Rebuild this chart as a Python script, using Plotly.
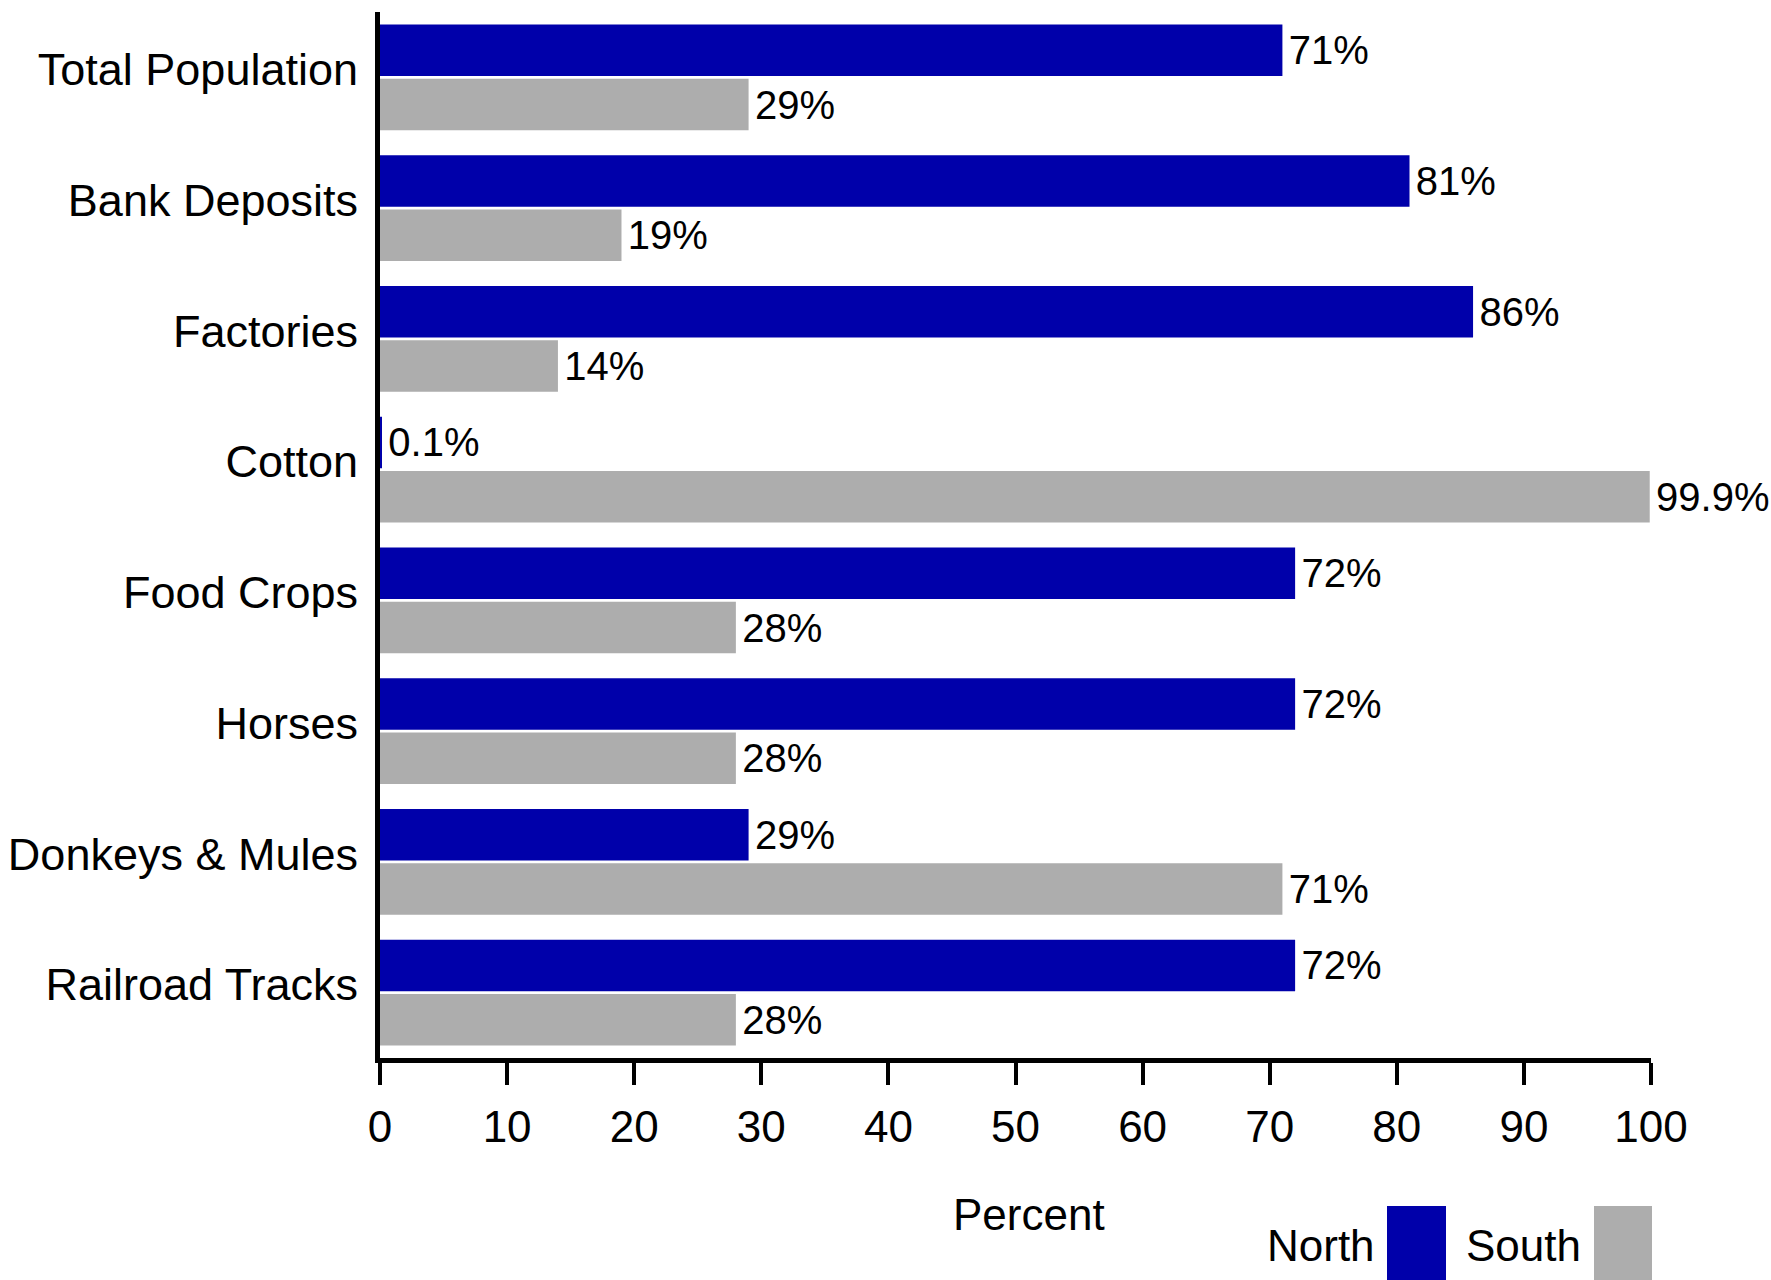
import plotly.graph_objects as go

categories = ["Total Population", "Bank Deposits", "Factories", "Cotton",
              "Food Crops", "Horses", "Donkeys & Mules", "Railroad Tracks"]
north = [71, 81, 86, 0.1, 72, 72, 29, 72]
south = [29, 19, 14, 99.9, 28, 28, 71, 28]
north_labels = ["71%", "81%", "86%", "0.1%", "72%", "72%", "29%", "72%"]
south_labels = ["29%", "19%", "14%", "99.9%", "28%", "28%", "71%", "28%"]
x_ticks = [0, 10, 20, 30, 40, 50, 60, 70, 80, 90, 100]
x_title = "Percent"

FONT = "Liberation Sans, Arial, Helvetica, sans-serif"
NORTH_C = "#0000AA"
SOUTH_C = "#ADADAD"

W, H = 1771, 1280
L, R, T, B = 380, 120, 12, 222

fig = go.Figure()
fig.add_trace(go.Bar(
    y=categories, x=north, orientation="h", name="North",
    marker=dict(color=NORTH_C, line=dict(width=0)),
    text=["\u200a" + s for s in north_labels], textposition="outside",
    textfont=dict(family=FONT, size=40, color="black"),
    cliponaxis=False, constraintext="none", showlegend=False,
))
fig.add_trace(go.Bar(
    y=categories, x=south, orientation="h", name="South",
    marker=dict(color=SOUTH_C, line=dict(width=0)),
    text=["\u200a" + s for s in south_labels], textposition="outside",
    textfont=dict(family=FONT, size=40, color="black"),
    cliponaxis=False, constraintext="none", showlegend=False,
))

def px(X):
    return (X - L) / (W - L - R)

def py(Y):
    return (H - B - Y) / (H - T - B)

shapes = []
annotations = [dict(xref="paper", yref="paper", x=px(1029), y=py(1214),
                    text=x_title, showarrow=False, xanchor="center", yanchor="middle",
                    font=dict(family=FONT, size=44, color="black"))]
for label, color, tx, sx0, sx1 in [("North", NORTH_C, 1373, 1387, 1446),
                                  ("South", SOUTH_C, 1579, 1594, 1652)]:
    annotations.append(dict(xref="paper", yref="paper", x=px(tx), y=py(1245),
                            text=label, showarrow=False, xanchor="right", yanchor="middle",
                            xshift=4,
                            font=dict(family=FONT, size=44, color="black")))
    shapes.append(dict(type="rect", xref="paper", yref="paper",
                       x0=px(sx0), x1=px(sx1), y0=py(1206), y1=py(1300),
                       fillcolor=color, line=dict(width=0)))

fig.update_layout(
    width=W, height=H,
    margin=dict(l=L, r=R, t=T, b=B),
    paper_bgcolor="white", plot_bgcolor="white",
    barmode="group", bargap=0.17, bargroupgap=0.05,
    font=dict(family=FONT, color="black"),
    shapes=shapes, annotations=annotations,
)
fig.update_xaxes(
    range=[0, 100], tickvals=x_ticks, ticks="outside", ticklen=22, tickwidth=4,
    tickcolor="black", showline=True, linecolor="black", linewidth=5,
    showgrid=False, zeroline=False, automargin=False,
    tickfont=dict(family=FONT, size=44, color="black"),
    ticklabelstandoff=4,
)
fig.update_yaxes(
    autorange="reversed", showline=True, linecolor="black", linewidth=5,
    ticks="", showgrid=False, zeroline=False, automargin=False,
    tickfont=dict(family=FONT, size=45, color="black"),
    ticklabelstandoff=8, ticklabelshift=8,
)

fig.write_html("out.html")
